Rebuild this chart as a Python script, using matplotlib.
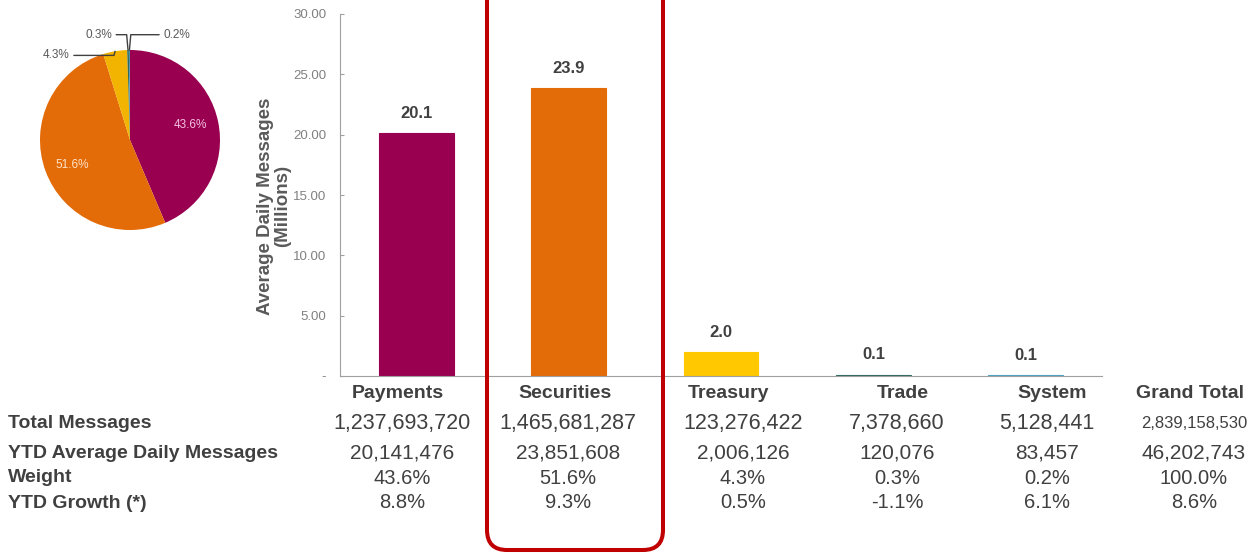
import matplotlib.pyplot as plt
import numpy as np
from matplotlib.patches import FancyBboxPatch

plt.rcParams['font.family'] = ['Liberation Sans', 'DejaVu Sans']

# data
categories = ["Payments", "Securities", "Treasury", "Trade", "System"]
avg_daily = [20141476, 23851608, 2006126, 120076, 83457]
total_messages = [1237693720, 1465681287, 123276422, 7378660, 5128441]
weights = [43.6, 51.6, 4.3, 0.3, 0.2]
growth = [8.8, 9.3, 0.5, -1.1, 6.1]
grand_total = {"total": 2839158530, "avg": 46202743, "weight": 100.0, "growth": 8.6}
yticks = [0, 5, 10, 15, 20, 25, 30]

colors = ["#990050", "#e36c09", "#ffc800", "#2e6b5e", "#4ba3c3"]
pie_colors = ["#990050", "#e36c09", "#f2b400", "#2e6b5e", "#4b8fb0"]
TXT = "#404040"

fig = plt.figure(figsize=(12.58, 5.55), dpi=100)
W, H = 1258, 555
fy = lambda py: 1 - py / H
fx = lambda px: px / W

# ---- bar chart
ax = fig.add_axes([fx(340), fy(376), 762 / W, 362 / H])
vals = [v / 1e6 for v in avg_daily]
x = list(range(len(categories)))
bars = ax.bar(x, vals, width=0.49, color=colors, edgecolor=colors, linewidth=0.8)
for b, v in zip(bars, vals):
    ax.text(b.get_x() + b.get_width() / 2, v + 1.0, f"{v:.1f}", ha="center",
            va="bottom", fontsize=12, fontweight="bold", color=TXT)
ax.set_xlim(-0.5, 4.5)
ax.set_ylim(0, 30)
ax.set_yticks(yticks)
ax.set_yticklabels(["-" if t == 0 else f"{t:.2f}" for t in yticks],
                   fontsize=9.5, color="#808080")
ax.set_xticks([])
for s in ["top", "right"]:
    ax.spines[s].set_visible(False)
for s in ["left", "bottom"]:
    ax.spines[s].set_color("#a0a0a0")
ax.tick_params(axis="y", direction="in", length=3, color="#a0a0a0", pad=10)
ax.set_ylabel("Average Daily Messages\n(Millions)", fontsize=13.5,
              fontweight="bold", color="#5a5a5a", linespacing=1.05)
ax.yaxis.set_label_coords(-0.064, 0.47)

# ---- pie chart
pax = fig.add_axes([fx(40), fy(230), 180 / W, 180 / H])
wedges, _ = pax.pie(weights, colors=pie_colors, startangle=90, counterclock=False,
                    radius=1.0)
pax.set_xlim(-1, 1)
pax.set_ylim(-1, 1)
pax.set_aspect("equal")
pax.text(0.67, 0.17, f"{weights[0]}%", ha="center", va="center", fontsize=8.5,
         color="#f4c0e2")
pax.text(-0.64, -0.28, f"{weights[1]}%", ha="center", va="center", fontsize=8.5,
         color="#fde3c8")


def mid_point(w):
    a = np.deg2rad((w.theta1 + w.theta2) / 2)
    return np.cos(a), np.sin(a)


# small slices get outside labels with leader lines
outside = [(2, (-0.67, 0.94), "right", 75), (3, (-0.2, 1.17), "right", 95),
           (4, (0.37, 1.17), "left", 85)]
for idx, xytext, ha, angb in outside:
    pax.annotate(f"{weights[idx]}%", xy=mid_point(wedges[idx]), xytext=xytext,
                 ha=ha, va="center", fontsize=8.5, color="#595959",
                 annotation_clip=False,
                 arrowprops=dict(arrowstyle="-", color="#404040", lw=1.0,
                                 shrinkA=1, shrinkB=0,
                                 connectionstyle=f"angle,angleA=0,angleB={angb},rad=0"))

# ---- table
head_x = [398, 565, 729, 903, 1052, 1190]
col_x = [402, 568, 743, 897, 1047, 1194]
row_y = {"head": 393, "total": 423, "avg": 453, "weight": 478, "growth": 503}

heads = categories + ["Grand Total"]
tot = [f"{v:,}" for v in total_messages] + [f"{grand_total['total']:,}"]
avg = [f"{v:,}" for v in avg_daily] + [f"{grand_total['avg']:,}"]
wt = [f"{v:.1f}%" for v in weights] + [f"{grand_total['weight']:.1f}%"]
gr = [f"{v:.1f}%" for v in growth] + [f"{grand_total['growth']:.1f}%"]

for i in range(len(heads)):
    fig.text(fx(head_x[i]), fy(row_y["head"]), heads[i], ha="center", va="center",
             fontsize=14, fontweight="bold", color=TXT)
    cx = fx(col_x[i])
    fig.text(cx, fy(row_y["total"]), tot[i], ha="center", va="center",
             fontsize=12 if i == 5 else 15.5, color=TXT)
    fig.text(cx, fy(row_y["avg"]), avg[i], ha="center", va="center",
             fontsize=15, color=TXT)
    fig.text(cx, fy(row_y["weight"]), wt[i], ha="center", va="center",
             fontsize=14.5, color=TXT)
    fig.text(cx, fy(row_y["growth"]), gr[i], ha="center", va="center",
             fontsize=14.5, color=TXT)

row_labels = ["Total Messages", "YTD Average Daily Messages", "Weight", "YTD Growth (*)"]
for lab, key in zip(row_labels, ["total", "avg", "weight", "growth"]):
    fig.text(fx(8), fy(row_y[key]), lab, ha="left", va="center", fontsize=14,
             fontweight="bold", color=TXT)

# ---- highlight box around Securities (pixel-space overlay)
over = fig.add_axes([0, 0, 1, 1], zorder=5)
over.set_xlim(0, W)
over.set_ylim(H, 0)
over.axis("off")
over.patch.set_alpha(0)
over.add_patch(FancyBboxPatch((487, -40), 176, 590,
                              boxstyle="round,pad=0,rounding_size=20",
                              fill=False, edgecolor="#c00000", linewidth=2.9))

fig.savefig("out.png", dpi=100, facecolor="white")
